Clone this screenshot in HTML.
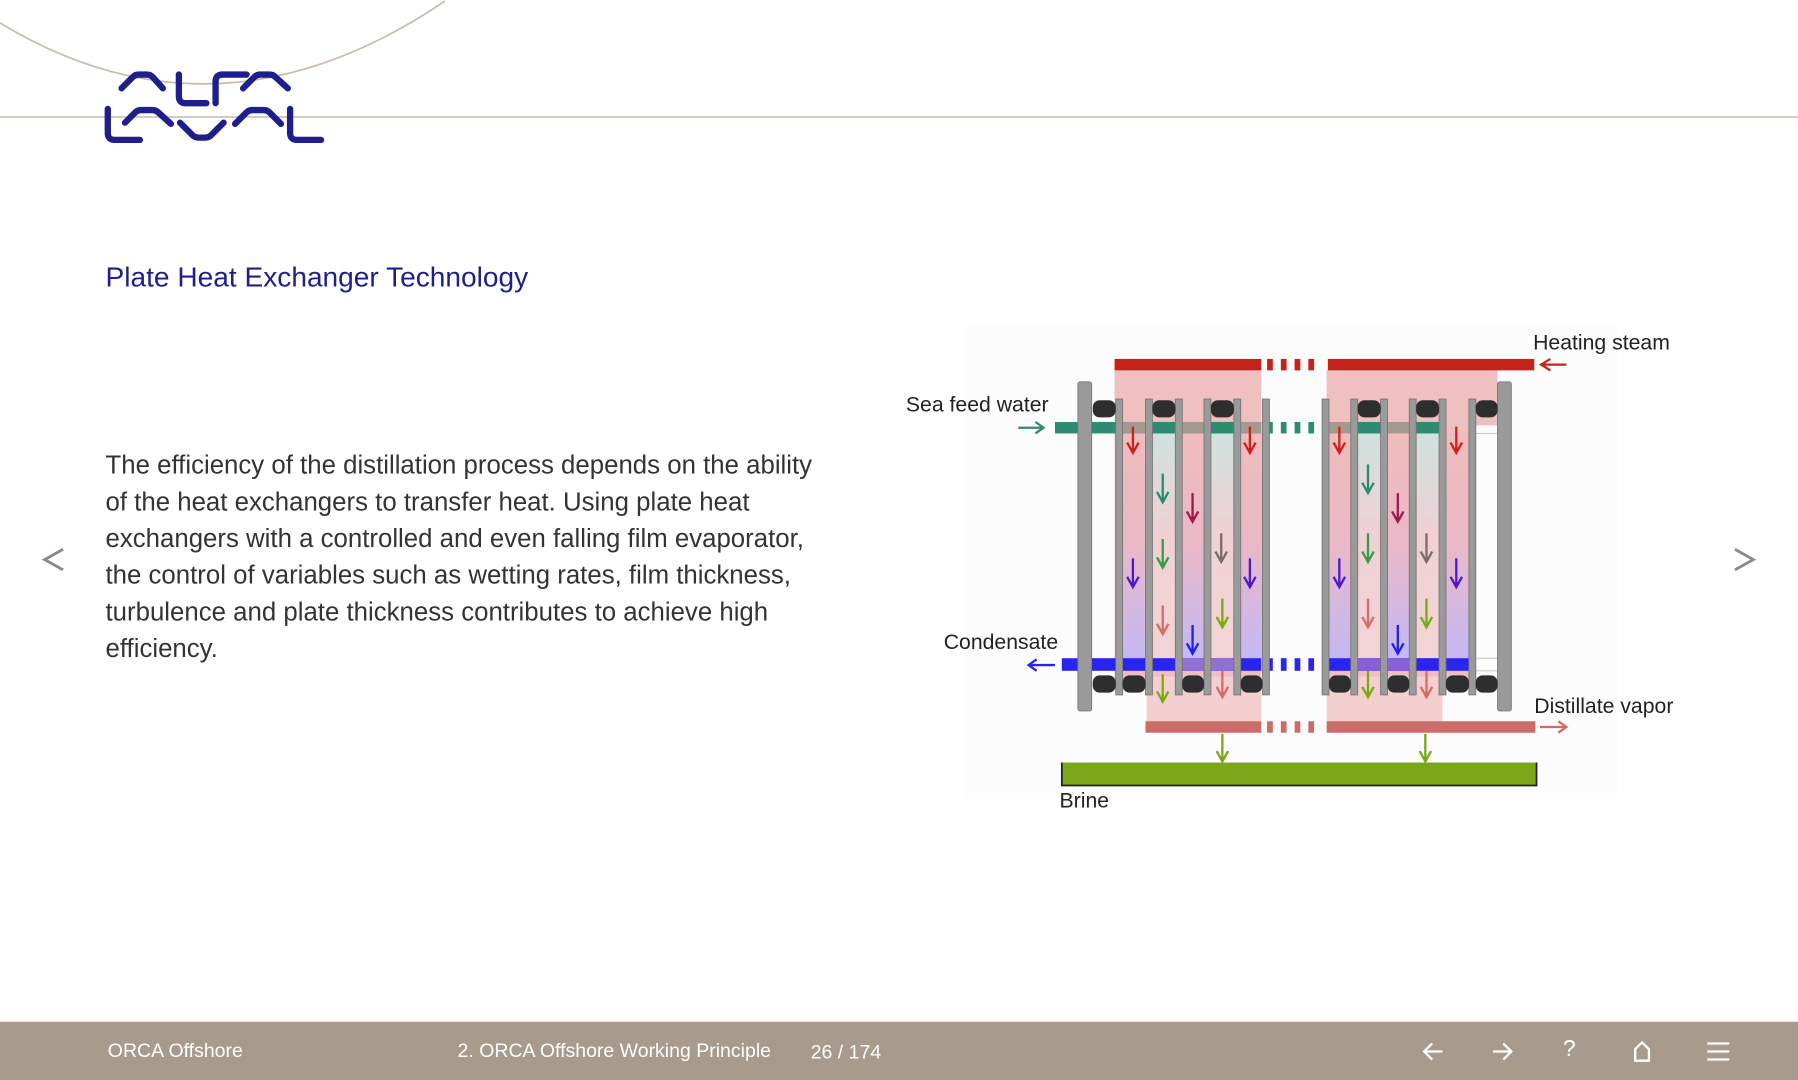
<!DOCTYPE html>
<html><head><meta charset="utf-8"><style>
html,body{margin:0;padding:0;background:#fff;overflow:hidden;width:1798px;height:1080px}
#w{position:absolute;left:0;top:0;width:1568px;height:942px;transform:scale(1.14668);transform-origin:0 0;font-family:"Liberation Sans",Arial,sans-serif}
.t{position:absolute;white-space:nowrap}
</style></head><body><div id="w">
<svg width="1568" height="942" style="position:absolute;left:0;top:0">
<path d="M0 20 Q 190 135 388 1" fill="none" stroke="#c8bcb0" stroke-width="1.5"/>
<line x1="0" y1="102" x2="1568" y2="102" stroke="#cdc2b8" stroke-width="1.5"/>
<g fill="none" stroke="#1e1e8c" stroke-width="5.5" stroke-linecap="round" stroke-linejoin="round">
<path d="M106 77 L116 67 Q118 65 121 65 H128 Q131 65 133 67 L142 77"/>
<path d="M156 65 V84 Q156 90 162 90 H180"/>
<path d="M188 90 V71 Q188 65 194 65 H215"/>
<path d="M212 77 L222 67 Q224 65 227 65 H235 Q238 65 240 67 L251 77"/>
<path d="M94 95 V116 Q94 122 100 122 H122"/>
<path d="M109 107 L118 98 Q120 96 123 96 H133 Q136 96 138 98 L149 108"/>
<path d="M157 107 L168 118 Q170 120 173 120 H179 Q182 120 184 118 L195 107"/>
<path d="M205 108 L215 98 Q217 96 220 96 H230 Q233 96 235 98 L245 108"/>
<path d="M253 95 V116 Q253 122 259 122 H280"/>
</g>
<defs>
<linearGradient id="gp" x1="0" y1="0" x2="0" y2="1"><stop offset="0" stop-color="#f0bcbc"/><stop offset="0.5" stop-color="#eab8c8"/><stop offset="1" stop-color="#c4b8f4"/></linearGradient>
<linearGradient id="gt" x1="0" y1="0" x2="0" y2="1"><stop offset="0" stop-color="#cfe2de"/><stop offset="0.45" stop-color="#f0d0d4"/><stop offset="1" stop-color="#f2d4d6"/></linearGradient>
</defs>
<rect x="840" y="285" width="570" height="412" fill="#fcfcfc"/>
<rect x="972" y="323" width="128" height="270" fill="#f0c0c0"/>
<rect x="1000" y="590" width="100" height="40" fill="#f4cfcf"/>
<rect x="1157" y="323" width="149" height="48" fill="#f0c0c0"/>
<rect x="1157" y="323" width="128" height="270" fill="#f0c0c0"/>
<rect x="1157" y="590" width="101" height="40" fill="#f4cfcf"/>
<g>
<rect x="979" y="378" width="20" height="196" fill="url(#gp)"/>
<rect x="1005" y="378" width="20" height="196" fill="url(#gt)"/>
<rect x="1031" y="378" width="19" height="196" fill="url(#gp)"/>
<rect x="1056" y="378" width="20" height="196" fill="url(#gt)"/>
<rect x="1082" y="378" width="19" height="196" fill="url(#gp)"/>
<rect x="1159" y="378" width="19" height="196" fill="url(#gp)"/>
<rect x="1184" y="378" width="20" height="196" fill="url(#gt)"/>
<rect x="1210" y="378" width="19" height="196" fill="url(#gp)"/>
<rect x="1235" y="378" width="20" height="196" fill="url(#gt)"/>
<rect x="1261" y="378" width="20" height="196" fill="url(#gp)"/>
</g>
<rect x="972" y="313" width="128" height="10" fill="#c4221a"/>
<g fill="#c4221a"><rect x="1105" y="313" width="5" height="10"/><rect x="1117" y="313" width="5" height="10"/><rect x="1129" y="313" width="5" height="10"/><rect x="1141" y="313" width="5" height="10"/></g>
<rect x="1158" y="313" width="180" height="10" fill="#c4221a"/>
<path d="M1366 318 H1344 M1352 313 L1344 318 L1352 323" stroke="#c4221a" stroke-width="2" fill="none"/>
<rect x="920" y="368" width="180" height="10" fill="#2e8a70"/>
<rect x="979" y="368" width="121" height="10" fill="#a49890"/>
<rect x="1005" y="368" width="20" height="10" fill="#2e8a70"/><rect x="1056" y="368" width="20" height="10" fill="#2e8a70"/>
<g fill="#2e8a70"><rect x="1105" y="368" width="5" height="10"/><rect x="1117" y="368" width="5" height="10"/><rect x="1129" y="368" width="5" height="10"/><rect x="1141" y="368" width="5" height="10"/></g>
<rect x="1157" y="368" width="101" height="10" fill="#a49890"/>
<rect x="1184" y="368" width="20" height="10" fill="#2e8a70"/><rect x="1235" y="368" width="20" height="10" fill="#2e8a70"/>
<rect x="1258" y="368" width="48" height="10" fill="none" stroke="#ccc" stroke-width="1"/>
<path d="M888 373 H910 M903 368 L910 373 L903 378" stroke="#2e8a70" stroke-width="2" fill="none"/>
<rect x="926" y="574" width="174" height="11" fill="#2a24f0"/>
<rect x="1031" y="574" width="19" height="11" fill="#9070d0"/>
<rect x="1056" y="574" width="20" height="11" fill="#9070d0"/>
<g fill="#2a24f0"><rect x="1105" y="574" width="5" height="11"/><rect x="1117" y="574" width="5" height="11"/><rect x="1129" y="574" width="5" height="11"/><rect x="1141" y="574" width="5" height="11"/></g>
<rect x="1157" y="574" width="125" height="11" fill="#2a24f0"/>
<rect x="1184" y="574" width="45" height="11" fill="#8a60d8"/>
<rect x="1282" y="574" width="24" height="11" fill="none" stroke="#ccc" stroke-width="1"/>
<path d="M920 580 H897 M904 575 L897 580 L904 585" stroke="#2a24f0" stroke-width="2" fill="none"/>
<g fill="#9a9a9a" stroke="#777" stroke-width="0.8">
<rect x="940" y="333" width="12" height="287" rx="2"/><rect x="1306" y="333" width="12" height="287" rx="2"/>
<rect x="973" y="348" width="6" height="258"/><rect x="999" y="348" width="6" height="258"/><rect x="1025" y="348" width="6" height="258"/><rect x="1050" y="348" width="6" height="258"/><rect x="1076" y="348" width="6" height="258"/><rect x="1101" y="348" width="6" height="258"/>
<rect x="1153" y="348" width="6" height="258"/><rect x="1178" y="348" width="6" height="258"/><rect x="1204" y="348" width="6" height="258"/><rect x="1229" y="348" width="6" height="258"/><rect x="1255" y="348" width="6" height="258"/><rect x="1281" y="348" width="6" height="258"/>
</g>
<g fill="#2e2e2e">
<rect x="953" y="349" width="20" height="15" rx="6"/><rect x="1005" y="349" width="20" height="15" rx="6"/><rect x="1056" y="349" width="20" height="15" rx="6"/>
<rect x="1184" y="349" width="20" height="15" rx="6"/><rect x="1235" y="349" width="20" height="15" rx="6"/><rect x="1287" y="349" width="19" height="15" rx="6"/>
<rect x="953" y="589" width="20" height="15" rx="6"/><rect x="979" y="589" width="20" height="15" rx="6"/><rect x="1031" y="589" width="19" height="15" rx="6"/><rect x="1082" y="589" width="19" height="15" rx="6"/>
<rect x="1159" y="589" width="19" height="15" rx="6"/><rect x="1210" y="589" width="19" height="15" rx="6"/><rect x="1261" y="589" width="20" height="15" rx="6"/><rect x="1287" y="589" width="19" height="15" rx="6"/>
</g>
<rect x="999" y="629" width="101" height="10" fill="#cc6c68"/>
<g fill="#cc6c68"><rect x="1105" y="629" width="5" height="10"/><rect x="1117" y="629" width="5" height="10"/><rect x="1129" y="629" width="5" height="10"/><rect x="1141" y="629" width="5" height="10"/></g>
<rect x="1157" y="629" width="182" height="10" fill="#cc6c68"/>
<path d="M1343 634 H1366 M1359 629 L1366 634 L1359 639" stroke="#cc6c68" stroke-width="2" fill="none"/>
<rect x="926" y="665" width="414" height="20" fill="#7aa61a"/>
<path d="M926 665 V685 H1340 V665" fill="none" stroke="#222" stroke-width="1.5"/>
<g fill="none" stroke-width="2">
<path stroke="#7aa61a" d="M1066 640V664M1061 655L1066 664L1071 655"/>
<path stroke="#7aa61a" d="M1243 640V664M1238 655L1243 664L1248 655"/>
<path stroke="#d0201c" d="M988 372V395M983 386L988 395L993 386"/>
<path stroke="#d0201c" d="M1090 372V395M1085 386L1090 395L1095 386"/>
<path stroke="#d0201c" d="M1168 372V395M1163 386L1168 395L1173 386"/>
<path stroke="#d0201c" d="M1270 372V395M1265 386L1270 395L1275 386"/>
<path stroke="#2a8a6e" d="M1014 413V438M1009 429L1014 438L1019 429"/>
<path stroke="#2a8a6e" d="M1193 405V430M1188 421L1193 430L1198 421"/>
<path stroke="#a0184c" d="M1040 430V455M1035 446L1040 455L1045 446"/>
<path stroke="#a0184c" d="M1219 430V455M1214 446L1219 455L1224 446"/>
<path stroke="#3a9a4a" d="M1014 470V495M1009 486L1014 495L1019 486"/>
<path stroke="#3a9a4a" d="M1193 465V490M1188 481L1193 490L1198 481"/>
<path stroke="#7a6a68" d="M1065 465V490M1060 481L1065 490L1070 481"/>
<path stroke="#7a6a68" d="M1244 465V490M1239 481L1244 490L1249 481"/>
<path stroke="#5018c8" d="M988 487V512M983 503L988 512L993 503"/>
<path stroke="#5018c8" d="M1090 487V512M1085 503L1090 512L1095 503"/>
<path stroke="#5018c8" d="M1168 487V512M1163 503L1168 512L1173 503"/>
<path stroke="#5018c8" d="M1270 487V512M1265 503L1270 512L1275 503"/>
<path stroke="#d86a6a" d="M1014 528V553M1009 544L1014 553L1019 544"/>
<path stroke="#d86a6a" d="M1193 522V547M1188 538L1193 547L1198 538"/>
<path stroke="#7aaa10" d="M1066 522V547M1061 538L1066 547L1071 538"/>
<path stroke="#7aaa10" d="M1244 522V547M1239 538L1244 547L1249 538"/>
<path stroke="#2020e8" d="M1040 545V570M1035 561L1040 570L1045 561"/>
<path stroke="#2020e8" d="M1219 545V570M1214 561L1219 570L1224 561"/>
<path stroke="#7aaa10" d="M1014 588V612M1009 603L1014 612L1019 603"/>
<path stroke="#7aaa10" d="M1193 585V608M1188 599L1193 608L1198 599"/>
<path stroke="#d86a6a" d="M1066 585V608M1061 599L1066 608L1071 599"/>
<path stroke="#d86a6a" d="M1244 585V608M1239 599L1244 608L1249 599"/>
</g>
<path d="M55 479 L39 488 L55 497" fill="none" stroke="#8a8a8a" stroke-width="2.5"/>
<path d="M1513 479 L1529 488 L1513 497" fill="none" stroke="#8a8a8a" stroke-width="2.5"/>
<rect x="0" y="891" width="1568" height="51" fill="#a89a8c"/>
<g fill="none" stroke="#fff" stroke-width="2">
<path d="M1258 917H1242M1249 910L1242 917L1249 924"/>
<path d="M1302 917H1318M1311 910L1318 917L1311 924"/>
<path d="M1426 925V915L1432 909L1438 915V925Z"/>
<path d="M1489 910H1508M1489 917H1508M1489 924H1508"/>
</g>
</svg>
<div class="t" style="left:92px;top:229px;font-size:24.5px;color:#1e1e8c">Plate Heat Exchanger Technology</div>
<div class="t" style="left:92px;top:390px;font-size:22.5px;line-height:32px;color:#333">The efficiency of the distillation process depends on the ability<br>of the heat exchangers to transfer heat. Using plate heat<br>exchangers with a controlled and even falling film evaporator,<br>the control of variables such as wetting rates, film thickness,<br>turbulence and plate thickness contributes to achieve high<br>efficiency.</div>
<div class="t" style="left:1337px;top:288px;font-size:18.5px;color:#222">Heating steam</div>
<div class="t" style="left:790px;top:342px;font-size:18.5px;color:#222">Sea feed water</div>
<div class="t" style="left:823px;top:549px;font-size:18.5px;color:#222">Condensate</div>
<div class="t" style="left:1338px;top:605px;font-size:18.5px;color:#222">Distillate vapor</div>
<div class="t" style="left:924px;top:687px;font-size:18.5px;color:#222">Brine</div>
<div class="t" style="left:94px;top:907px;font-size:17px;color:#fff">ORCA Offshore</div>
<div class="t" style="left:399px;top:907px;font-size:17px;color:#fff">2. ORCA Offshore Working Principle</div>
<div class="t" style="left:707px;top:908px;font-size:17px;color:#fff">26 / 174</div>
<div class="t" style="left:1363px;top:904px;font-size:20px;color:#fff">?</div>
</div></body></html>
